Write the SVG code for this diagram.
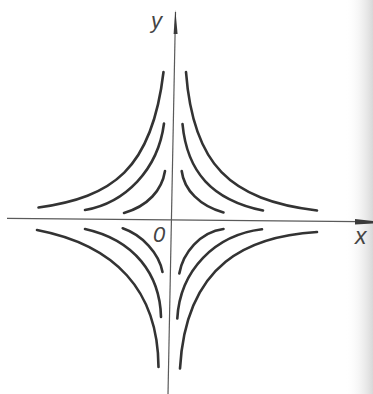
<svg xmlns="http://www.w3.org/2000/svg" width="373" height="394" viewBox="0 0 373 394">
  <defs>
    <linearGradient id="edge" x1="0" y1="0" x2="1" y2="0">
      <stop offset="0" stop-color="#ffffff" stop-opacity="0"/>
      <stop offset="1" stop-color="#d8d8d8" stop-opacity="1"/>
    </linearGradient>
    <style>
      .curve { fill: none; stroke: #333; stroke-width: 2.6; stroke-linecap: round; }
      .axis { fill: none; stroke: #5a5a5a; stroke-width: 1.2; }
      .head { fill: #3a3a3a; stroke: none; }
      .lbl { font-family: "Liberation Sans", Arial, sans-serif; font-style: italic; fill: #444; }
    </style>
  </defs>
  <rect x="0" y="0" width="373" height="394" fill="#ffffff"/>
  <rect x="345" y="0" width="28" height="394" fill="url(#edge)"/>

  <g id="axes">
    <line class="axis" x1="7" y1="218.3" x2="358" y2="221.7"/>
    <polygon class="head" points="355,219 373,221 373,223.4 355,224.4"/>
    <line class="axis" x1="175.5" y1="12" x2="168" y2="394"/>
    <polygon class="head" points="175.4,10 177.6,34 173.6,34"/>
  </g>

  <g id="curves">
    <g id="quadrant-1">
      <path class="curve" d="M186,72 C193,165 230,200 317,210.5"/>
      <path class="curve" d="M182.5,124 C187,172 212,200 263,210.5"/>
      <path class="curve" d="M181.7,171 C184,190 200,206 223.5,212.5"/>
    </g>
    <g id="quadrant-2">
      <path class="curve" d="M163.5,72 C152,170 112,197 38.5,207.5"/>
      <path class="curve" d="M164,123.5 C158,170 125,203 85,210"/>
      <path class="curve" d="M165,171 C162,190 148,206 124,213"/>
    </g>
    <g id="quadrant-3">
      <path class="curve" d="M37,230 C115,245 158,290 158.5,367"/>
      <path class="curve" d="M85,229 C135,240 160,275 161,317"/>
      <path class="curve" d="M122.7,228.3 C142,235 159,253 162.5,272"/>
    </g>
    <g id="quadrant-4">
      <path class="curve" d="M317,232 C250,236 186,262 180,368.5"/>
      <path class="curve" d="M262,229.3 C215,235 180,270 177.3,318.5"/>
      <path class="curve" d="M223.5,229 C200,232 183,253 179.3,273.5"/>
    </g>
  </g>

  <g id="labels">
    <text class="lbl" x="151" y="28" font-size="22">y</text>
    <text class="lbl" x="355" y="244" font-size="23">x</text>
    <text class="lbl" x="153" y="242" font-size="22">0</text>
  </g>
</svg>
